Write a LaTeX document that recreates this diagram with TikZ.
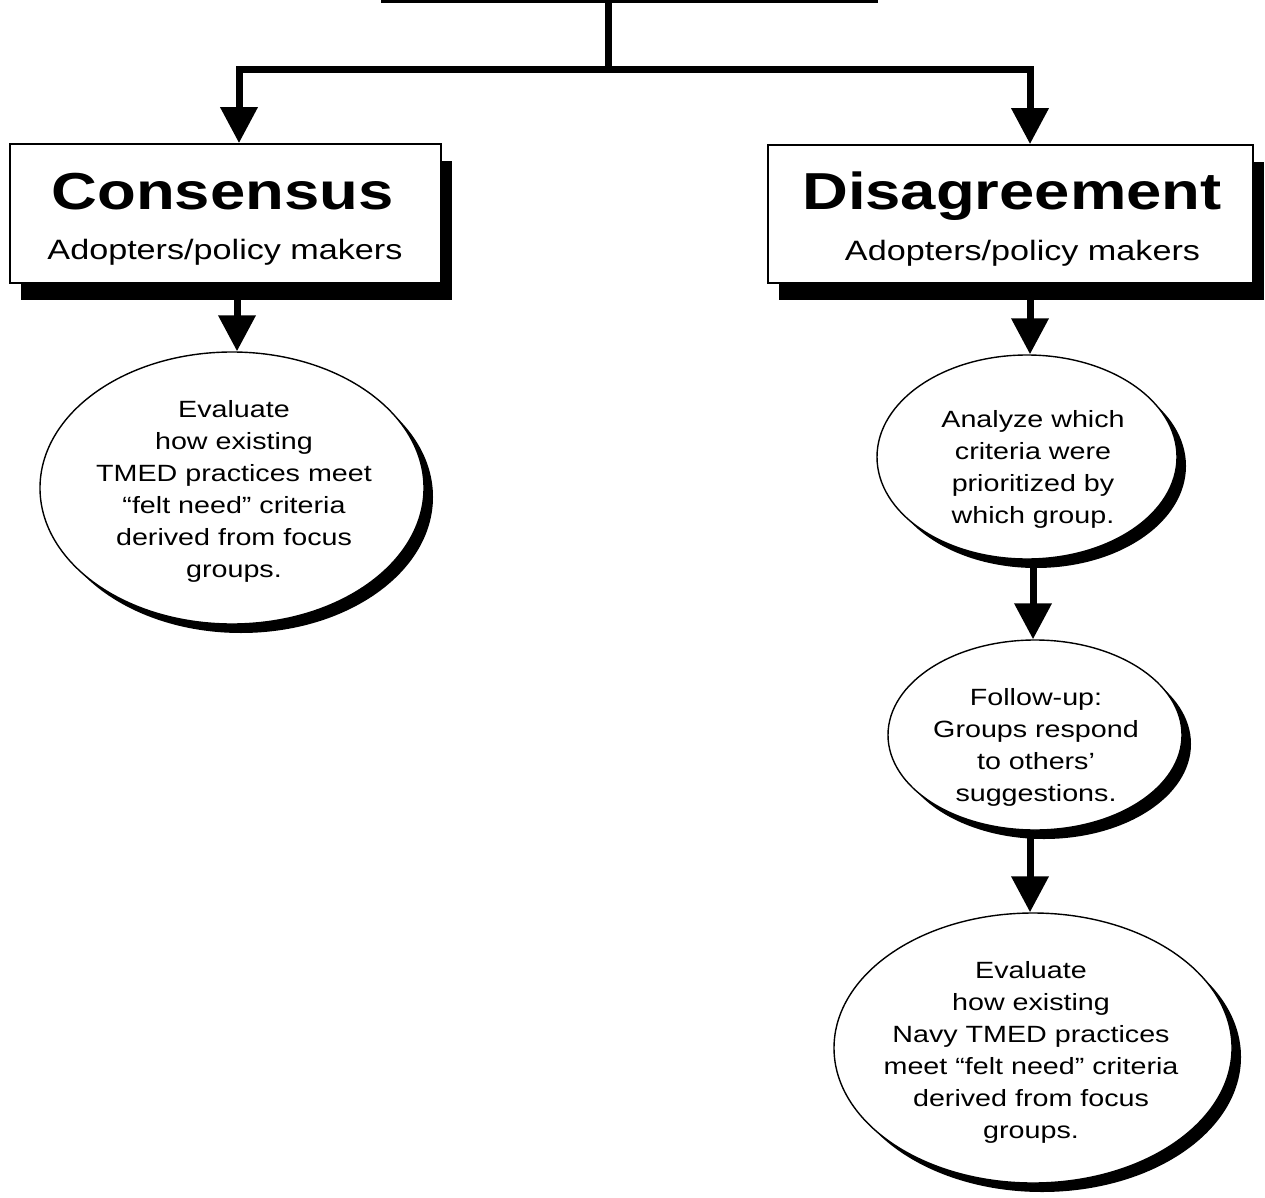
\documentclass[tikz,border=0pt]{standalone}
\usepackage{fontspec}
\setmainfont{Liberation Sans}[FakeStretch=1.22]
\usetikzlibrary{arrows.meta,shapes.geometric,shadows}
\begin{document}
\begin{tikzpicture}[x=1pt,y=-1pt,
  conn/.style={line width=7pt},
  arr/.style={line width=7pt,-{Triangle[width=36pt,length=36pt]}},
  boxnode/.style={draw,line width=1.8pt,fill=white,rectangle,inner sep=0pt,
    drop shadow={shadow xshift=11pt,shadow yshift=-17pt,fill=black,opacity=1}},
  ell/.style={ellipse,draw,line width=1.4pt,fill=white,inner sep=0pt,
    drop shadow={shadow xshift=9pt,shadow yshift=-9pt,fill=black,opacity=1}},
  titletext/.style={font=\fontsize{52}{60}\selectfont\bfseries,anchor=base,inner sep=0pt},
  subtext/.style={font=\fontsize{28}{34}\selectfont,anchor=base,inner sep=0pt},
  bodytext/.style={font=\fontsize{23.5}{32}\selectfont,align=center,anchor=base,inner sep=0pt}
]
\useasboundingbox (0,0) rectangle (1265,1198);
\fill[white] (0,0) rectangle (1265,1198);
\clip (0,0) rectangle (1265,1198);

% top (cut-off) box
\node[draw,line width=3pt,fill=white,rectangle,inner sep=0pt,minimum width=494pt,minimum height=100pt] (top) at (629,-48.5) {};
\coordinate (j) at (608,70);

% boxes
\node[boxnode,minimum width=431pt,minimum height=139pt] (cons) at (225.5,213.5) {};
\node[boxnode,minimum width=485pt,minimum height=138pt] (dis) at (1010.5,214) {};

\node[titletext] (ct) at (222.5,210) {Consensus};
\node[subtext] (cs) at (225,259) {Adopters/policy makers};
\node[titletext] (dt) at (1012,210) {Disagreement};
\node[subtext] (ds) at (1022.5,260) {Adopters/policy makers};

% ellipses
\node[ell,minimum width=384pt,minimum height=272pt] (e1) at (232,488) {};
\node[ell,minimum width=300pt,minimum height=204pt] (e2) at (1027,457) {};
\node[ell,minimum width=294pt,minimum height=190pt] (e3) at (1035,735) {};
\node[ell,minimum width=398pt,minimum height=270pt] (e4) at (1033,1048) {};

% base anchor = baseline of the last line
\node[bodytext] (e1t) at (234,577) {Evaluate\\how existing\\TMED practices meet\\“felt need” criteria\\derived from focus\\groups.};
\node[bodytext] (e2t) at (1033,523) {Analyze which\\criteria were\\prioritized by\\which group.};
\node[bodytext] (e3t) at (1036,801) {Follow-up:\\Groups respond\\to others’\\suggestions.};
\node[bodytext] (e4t) at (1031,1138) {Evaluate\\how existing\\Navy TMED practices\\meet “felt need” criteria\\derived from focus\\groups.};

% connectors
\draw[conn] (top.south -| j) -- (j);
\draw[arr] (j) -| ([xshift=13.5pt]cons.north);
\draw[arr] (j) -| ([xshift=19.5pt]dis.north);
\draw[arr] ([xshift=11.5pt]cons.south) -- ([xshift=5pt]e1.north);
\draw[arr] ([xshift=19.5pt]dis.south) -- ([xshift=3pt]e2.north);
\draw[arr] ([xshift=6pt]e2.south) -- ([xshift=-2pt]e3.north);
\draw[arr] ([xshift=-5pt]e3.south) -- ([xshift=-3pt]e4.north);
\end{tikzpicture}
\end{document}
